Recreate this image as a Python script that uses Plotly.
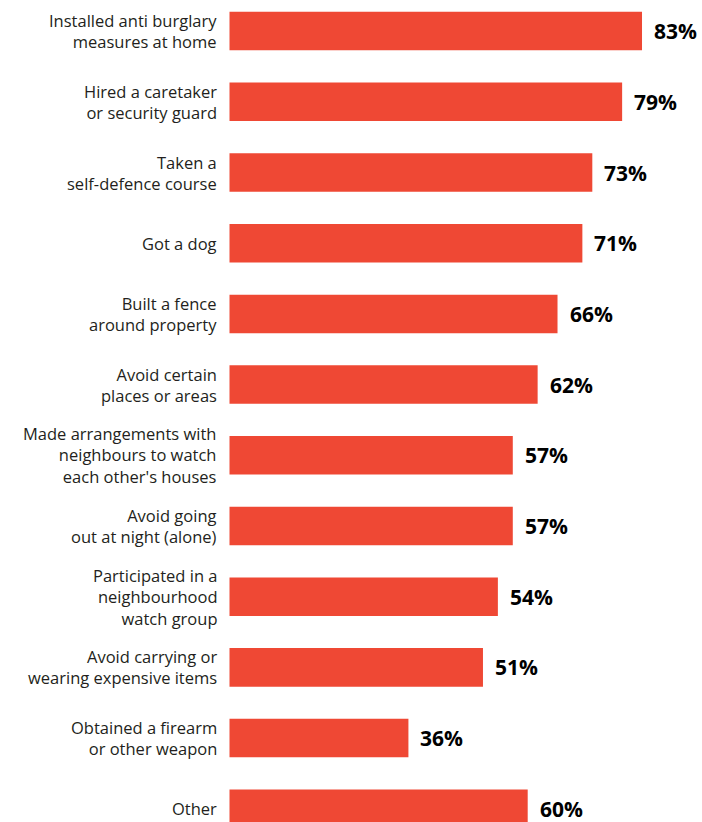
import plotly.graph_objects as go

# Share of respondents who took each precaution (%)
measures = [
    "Installed anti burglary<br>measures at home",
    "Hired a caretaker<br>or security guard",
    "Taken a<br>self-defence course",
    "Got a dog",
    "Built a fence<br>around property",
    "Avoid certain<br>places or areas",
    "Made arrangements with<br>neighbours to watch<br>each other's houses",
    "Avoid going<br>out at night (alone)",
    "Participated in a<br>neighbourhood<br>watch group",
    "Avoid carrying or<br>wearing expensive items",
    "Obtained a firearm<br>or other weapon",
    "Other",
]
shares = [83, 79, 73, 71, 66, 62, 57, 57, 54, 51, 36, 60]

BAR_COLOR = "#EF4834"
TEXT_COLOR = "#231F20"
LABEL_FONT = "'Open Sans', sans-serif"

positions = list(range(len(measures)))

fig = go.Figure(
    go.Bar(
        x=shares,
        y=positions,
        orientation="h",
        width=0.545,
        marker=dict(color=BAR_COLOR, line=dict(width=0)),
        hoverinfo="skip",
    )
)

annotations = []
for pos, name, val in zip(positions, measures, shares):
    # category label to the left of the bar
    annotations.append(dict(
        x=0, y=pos, xref="paper", yref="y",
        text=name, showarrow=False,
        xanchor="right", yanchor="middle", align="right",
        xshift=-10,
        font=dict(family=LABEL_FONT, size=16.5, color=TEXT_COLOR),
    ))
    # value label just past the bar end
    annotations.append(dict(
        x=val, y=pos, xref="x", yref="y",
        text=f"<b>{val}%</b>", showarrow=False,
        xanchor="left", yanchor="middle",
        xshift=10,
        font=dict(family=LABEL_FONT, size=21, color="#000000"),
    ))

fig.update_layout(
    width=702,
    height=822,
    margin=dict(l=229, r=0, t=0, b=0),
    paper_bgcolor="white",
    plot_bgcolor="white",
    showlegend=False,
    annotations=annotations,
    xaxis=dict(range=[-0.1, 95.07], visible=False, fixedrange=True),
    yaxis=dict(range=[11.187, -0.44], visible=False, fixedrange=True),
)

fig.write_html("out.html")
